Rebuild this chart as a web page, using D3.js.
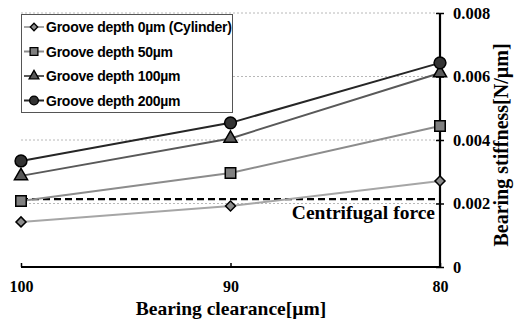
<!DOCTYPE html>
<html>
<head>
<meta charset="utf-8">
<script src="https://cdn.jsdelivr.net/npm/d3@7"></script>
<style>
body { margin: 0; background: #fff; }
</style>
</head>
<body>
<script>
var clearance = [100, 90, 80];
var cylinder = [0.00142, 0.00192, 0.00271];
var groove50 = [0.00208, 0.00296, 0.00444];
var groove100 = [0.00287, 0.00405, 0.00611];
var groove200 = [0.00334, 0.00454, 0.00643];
var centrifugal = 0.00214;
var yTicks = [0, 0.002, 0.004, 0.006, 0.008];
var seriesNames = ["Groove depth 0µm (Cylinder)", "Groove depth 50µm", "Groove depth 100µm", "Groove depth 200µm"];

function init() {
    var w = 517, h = 321;
    var svg = d3.select("body").append("svg")
        .attr("width", w).attr("height", h);

    var x = d3.scaleLinear().domain([100, 80]).range([21, 440]);
    var y = d3.scaleLinear().domain([0, 0.008]).range([267, 13]);

    var serif = "'Liberation Serif', 'Times New Roman', serif";
    var sans = "'Liberation Sans', Arial, sans-serif";

    // grid
    svg.selectAll("line.grid")
        .data(yTicks.slice(1))
        .enter().append("line")
        .attr("x1", x(100)).attr("x2", x(80))
        .attr("y1", function (d) { return y(d); })
        .attr("y2", function (d) { return y(d); })
        .attr("stroke", "#b8b8b8").attr("stroke-width", 1)
        .attr("stroke-dasharray", "2,2");

    // x axis
    var xAxis = svg.append("g").attr("transform", "translate(0," + y(0) + ")")
        .call(d3.axisBottom(x).tickValues(clearance).tickSize(-4).tickPadding(14).tickFormat(d3.format("d")));
    xAxis.select(".domain").attr("stroke", "#000").attr("stroke-width", 2.2).attr("d", "M" + x(100) + ",0H" + x(80));
    xAxis.selectAll(".tick line").attr("stroke-width", 1.5);
    xAxis.selectAll("text").attr("font-family", serif).attr("font-weight", "bold")
        .attr("font-size", 16).attr("fill", "#000");

    // y axis on right
    var yAxis = svg.append("g").attr("transform", "translate(" + x(80) + ",0)")
        .call(d3.axisRight(y).tickValues(yTicks).tickSize(4).tickPadding(9)
            .tickFormat(function (d) { return d === 0 ? "0" : d3.format(".3f")(d); }));
    yAxis.select(".domain").attr("stroke", "#000").attr("stroke-width", 2.2).attr("d", "M0," + y(0.008) + "V" + y(0));
    yAxis.selectAll(".tick line").attr("x1", -4).attr("stroke-width", 1.5);
    yAxis.selectAll("text").attr("font-family", serif).attr("font-weight", "bold")
        .attr("font-size", 16.5).attr("fill", "#000");

    // axis titles
    svg.append("text").attr("x", 231).attr("y", 315).attr("text-anchor", "middle")
        .attr("font-family", serif).attr("font-weight", "bold").attr("font-size", 19.5)
        .text("Bearing clearance[µm]");
    svg.append("text").attr("transform", "translate(508,145) rotate(-90)")
        .attr("text-anchor", "middle")
        .attr("font-family", serif).attr("font-weight", "bold").attr("font-size", 20)
        .text("Bearing stiffness[N/µm]");

    // centrifugal force
    svg.append("line")
        .attr("x1", x(100)).attr("x2", x(80))
        .attr("y1", y(centrifugal)).attr("y2", y(centrifugal))
        .attr("stroke", "#000").attr("stroke-width", 2.2).attr("stroke-dasharray", "7,4");
    svg.append("text").attr("x", 435).attr("y", 219).attr("text-anchor", "end")
        .attr("font-family", serif).attr("font-weight", "bold").attr("font-size", 19.5)
        .text("Centrifugal force");

    var series = [
        { name: seriesNames[0], values: cylinder, line: "#a6a6a6", fill: "#8c8c8c", shape: d3.symbolSquare, size: 50, rot: 45 },
        { name: seriesNames[1], values: groove50, line: "#8c8c8c", fill: "#808080", shape: d3.symbolSquare, size: 110, rot: 0 },
        { name: seriesNames[2], values: groove100, line: "#595959", fill: "#595959", shape: d3.symbolTriangle, size: 75, rot: 0 },
        { name: seriesNames[3], values: groove200, line: "#262626", fill: "#333333", shape: d3.symbolCircle, size: 110, rot: 0 }
    ];

    var line = d3.line()
        .x(function (d, i) { return x(clearance[i]); })
        .y(function (d) { return y(d); });

    series.forEach(function (s) {
        svg.append("path").datum(s.values)
            .attr("d", line).attr("fill", "none")
            .attr("stroke", s.line).attr("stroke-width", 2);
        svg.selectAll(null).data(s.values).enter().append("path")
            .attr("d", d3.symbol().type(s.shape).size(s.size))
            .attr("transform", function (d, i) {
                return "translate(" + x(clearance[i]) + "," + y(d) + ") rotate(" + s.rot + ")";
            })
            .attr("fill", s.fill).attr("stroke", "#000").attr("stroke-width", 1.5);
    });

    // legend
    var lg = svg.append("g");
    lg.append("rect").attr("x", 21.5).attr("y", 14.5).attr("width", 211).attr("height", 98)
        .attr("fill", "#fff").attr("stroke", "#555").attr("stroke-width", 1);
    series.forEach(function (s, i) {
        var yy = 27 + i * 24.5;
        lg.append("line").attr("x1", 24).attr("x2", 44).attr("y1", yy).attr("y2", yy)
            .attr("stroke", s.line).attr("stroke-width", 2);
        lg.append("path").attr("d", d3.symbol().type(s.shape).size(s.size * 0.55))
            .attr("transform", "translate(34," + yy + ") rotate(" + s.rot + ")")
            .attr("fill", s.fill).attr("stroke", "#000").attr("stroke-width", 1.3);
        lg.append("text").attr("x", 46).attr("y", yy + 5)
            .attr("font-family", sans).attr("font-weight", "bold").attr("font-size", 14)
            .attr("letter-spacing", -0.25)
            .text(s.name);
    });
}

window.onload = init;
</script>
</body>
</html>
